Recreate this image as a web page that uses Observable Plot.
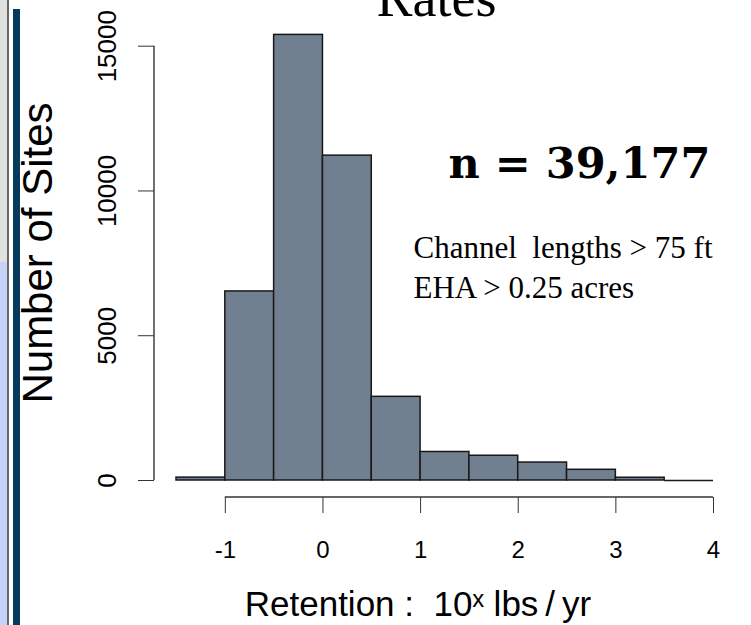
<!DOCTYPE html>
<html>
<head>
<meta charset="utf-8">
<script src="https://cdn.jsdelivr.net/npm/d3@7"></script>
<script src="https://cdn.jsdelivr.net/npm/@observablehq/plot@0.6"></script>
<style>
  html, body { margin: 0; padding: 0; background: #fff; }
  #wrap { position: relative; width: 751px; height: 625px; overflow: hidden; background: #fff; }
  .deco { position: absolute; }
  #chart { position: absolute; left: 0; top: 0; z-index: 2; }
</style>
</head>
<body>
<div id="wrap">
  <div class="deco" style="left:0;top:0;width:7px;height:262px;background:#e1e1e1;"></div>
  <div class="deco" style="left:0;top:262px;width:7px;height:363px;background:#c3d2f6;"></div>
  <div class="deco" style="left:7px;top:0;width:2px;height:625px;background:#666;"></div>
  <div class="deco" style="left:13px;top:9px;width:7px;height:616px;background:#063a5f;"></div>
  <div id="chart"></div>
</div>
<script>
// Histogram bin edges (log10 retention) and counts per bin
const binEdges = [-1.5, -1, -0.5, 0, 0.5, 1, 1.5, 2, 2.5, 3, 3.5, 4];
const binCounts = [100, 6530, 15390, 11220, 2890, 985, 855, 620, 370, 95, 0];
const xTicks = [-1, 0, 1, 2, 3, 4];
const yTicks = [0, 5000, 10000, 15000];
const titleText = ["Rates"];
const nText = ["n = 39,177"];
const noteLines = ["Channel  lengths > 75 ft", "EHA > 0.25 acres"];
const yLabel = ["Number of Sites"];
const xLabel = ["Retention :  10\u02E3 lbs\u2009/\u2009yr"];

const table = binCounts.map((c, i) => ({x1: binEdges[i], x2: binEdges[i + 1], count: c}));

const W = 751, H = 625, ML = 154, MB = 128;
const sans = "'Liberation Sans', Arial, sans-serif";
const serif = "'Liberation Serif', 'Times New Roman', serif";

const plot = Plot.plot({
  width: W,
  height: H,
  marginLeft: ML,
  marginRight: 38,
  marginTop: 8,
  marginBottom: MB,
  insetLeft: 22,
  insetBottom: 17,
  insetTop: 37.7,
  style: {background: "transparent", fontFamily: sans, color: "#000", overflow: "visible"},
  x: {domain: [binEdges[0], binEdges[binEdges.length - 1]], axis: null},
  y: {domain: [0, 15000], axis: null},
  marks: [
    Plot.rectY(table.filter(d => d.count > 0), {
      x1: "x1", x2: "x2", y: "count", inset: 0,
      fill: "#708090", stroke: "#181818", strokeWidth: 1.5
    }),
    Plot.ruleY(table.filter(d => d.count === 0), {x1: "x1", x2: "x2", y: 0, stroke: "#181818", strokeWidth: 1.5}),
    Plot.axisX({ticks: xTicks, tickSize: 16, tickPadding: 27, tickFormat: d => String(d),
      fontSize: 24, fontFamily: sans, stroke: "#333", fill: "#000", label: null}),
    Plot.axisY({ticks: yTicks, tickSize: 16, tickFormat: () => "", stroke: "#333", label: null}),
    Plot.text(yTicks, {y: d => d, text: d => String(d), frameAnchor: "left", dx: -39,
      rotate: -90, textAnchor: "middle", lineAnchor: "bottom", fontSize: 26, fontFamily: sans, fill: "#000"}),
    Plot.text(yLabel, {frameAnchor: "left", dx: -103, rotate: -90, textAnchor: "middle", lineAnchor: "bottom",
      fontSize: 42, fontFamily: sans, fill: "#000"}),
    Plot.text(xLabel, {frameAnchor: "bottom", dx: -16, dy: 118, textAnchor: "middle", lineAnchor: "bottom",
      fontSize: 35, fontFamily: sans, fill: "#000"}),
    Plot.text(titleText, {x: 1.163, y: 16026, lineAnchor: "bottom", fontSize: 54,
      fontFamily: serif, fill: "#000"}),
    Plot.text(nText, {x: 1.286, y: 10440, textAnchor: "start", lineAnchor: "bottom",
      fontSize: 43, fontWeight: "bold", fontFamily: "'DejaVu Serif', serif", fill: "#000"}),
    Plot.text([noteLines[0]], {x: 0.927, y: 7668, textAnchor: "start", lineAnchor: "bottom",
      fontSize: 31, fontFamily: serif, fill: "#000"}),
    Plot.text([noteLines[1]], {x: 0.927, y: 6286, textAnchor: "start", lineAnchor: "bottom",
      fontSize: 31, fontFamily: serif, fill: "#000"})
  ]
});

// axis domain lines, placed with the plot's own scales
const sx = plot.scale("x"), sy = plot.scale("y");
const svg = d3.select(plot);
svg.append("line")
  .attr("x1", sx.apply(xTicks[0])).attr("x2", sx.apply(xTicks[xTicks.length - 1]))
  .attr("y1", H - MB).attr("y2", H - MB)
  .attr("stroke", "#333").attr("stroke-width", 1.4);
svg.append("line")
  .attr("x1", ML).attr("x2", ML)
  .attr("y1", sy.apply(yTicks[0])).attr("y2", sy.apply(yTicks[yTicks.length - 1]))
  .attr("stroke", "#333").attr("stroke-width", 1.4);

document.getElementById("chart").appendChild(plot);
</script>
</body>
</html>
